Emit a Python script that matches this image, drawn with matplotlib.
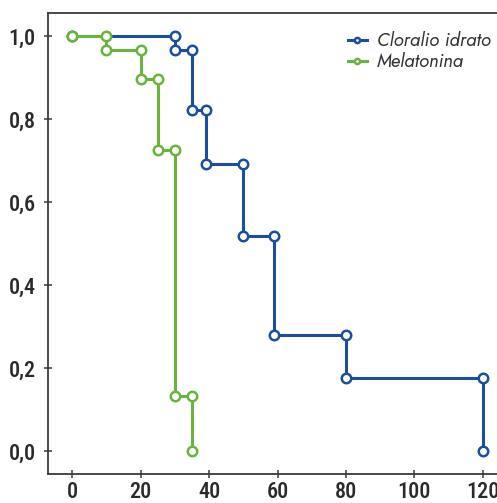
import matplotlib
matplotlib.use("Agg")
import matplotlib.pyplot as plt
from matplotlib import font_manager

# Data (time, survival)
cloralio_t = [0, 30, 30, 35, 35, 39, 39, 50, 50, 59, 59, 80, 80, 120, 120]
cloralio_s = [1.0, 1.0, 0.966, 0.966, 0.822, 0.822, 0.691, 0.691, 0.517, 0.517, 0.279, 0.279, 0.175, 0.175, 0.0]
melatonina_t = [0, 10, 10, 20, 20, 25, 25, 30, 30, 35, 35]
melatonina_s = [1.0, 1.0, 0.966, 0.966, 0.897, 0.897, 0.725, 0.725, 0.133, 0.133, 0.0]
labels = ["Cloralio idrato", "Melatonina"]
xticks = [0, 20, 40, 60, 80, 100, 120]
yticks = [0.0, 0.2, 0.4, 0.6, 0.8, 1.0]
ytick_labels = ["0,0", "0,2", "0,4", "0,6", "0,8", "1,0"]

blue = "#1b4f9c"
green = "#6ab43e"
axcol = "#3a3a3a"

names = {f.name for f in font_manager.fontManager.ttflist}
def pick(cands):
    for c in cands:
        if c in names:
            return c
    return "DejaVu Sans"
tick_font = pick(["Futura", "Roboto Condensed", "Archivo Narrow", "PT Sans Narrow", "Liberation Sans Narrow"])
leg_font = pick(["Futura", "Jost", "Lato", "Open Sans"])

fig = plt.figure(figsize=(4.97, 5.03), dpi=100)
ax = fig.add_axes([48/497, 1 - 474/503, 1 - 48/497 + 0.01, (474 - 13)/503])

common = dict(lw=2.2, marker="o", ms=6.8, mfc="white", mew=1.8, clip_on=False)
ax.plot(cloralio_t, cloralio_s, color=blue, label=labels[0], zorder=3, **common)
ax.plot(melatonina_t, melatonina_s, color=green, label=labels[1], zorder=4, **common)

ax.set_xlim(-7.1, 125.6)
ax.set_ylim(-0.055, 1.055)
ax.set_xticks(xticks)
ax.set_xticklabels([str(v) for v in xticks])
ax.set_yticks(yticks)
ax.set_yticklabels(ytick_labels)

for s in ["left", "bottom", "top"]:
    ax.spines[s].set_color(axcol)
    ax.spines[s].set_linewidth(1.3)
ax.spines["right"].set_visible(False)

ax.tick_params(direction="inout", length=6, width=1.1, color=axcol, labelcolor="#2a2a2a", labelsize=16)
ax.tick_params(axis="x", pad=2)
ax.tick_params(axis="y", pad=6)
for lab in ax.get_xticklabels() + ax.get_yticklabels():
    lab.set_family([tick_font, "DejaVu Sans"])
    lab.set_fontweight("medium")

leg = ax.legend(loc="upper right", bbox_to_anchor=(1.0, 0.985), frameon=False,
                handlelength=1.0, handletextpad=0.55, labelspacing=0.12, markerscale=0.55,
                borderaxespad=0.2,
                prop=dict(family=[leg_font, "DejaVu Sans"], style="italic", weight="light", size=13.5))
for t in leg.get_texts():
    t.set_color("#333333")

fig.savefig("out.png", dpi=100)
